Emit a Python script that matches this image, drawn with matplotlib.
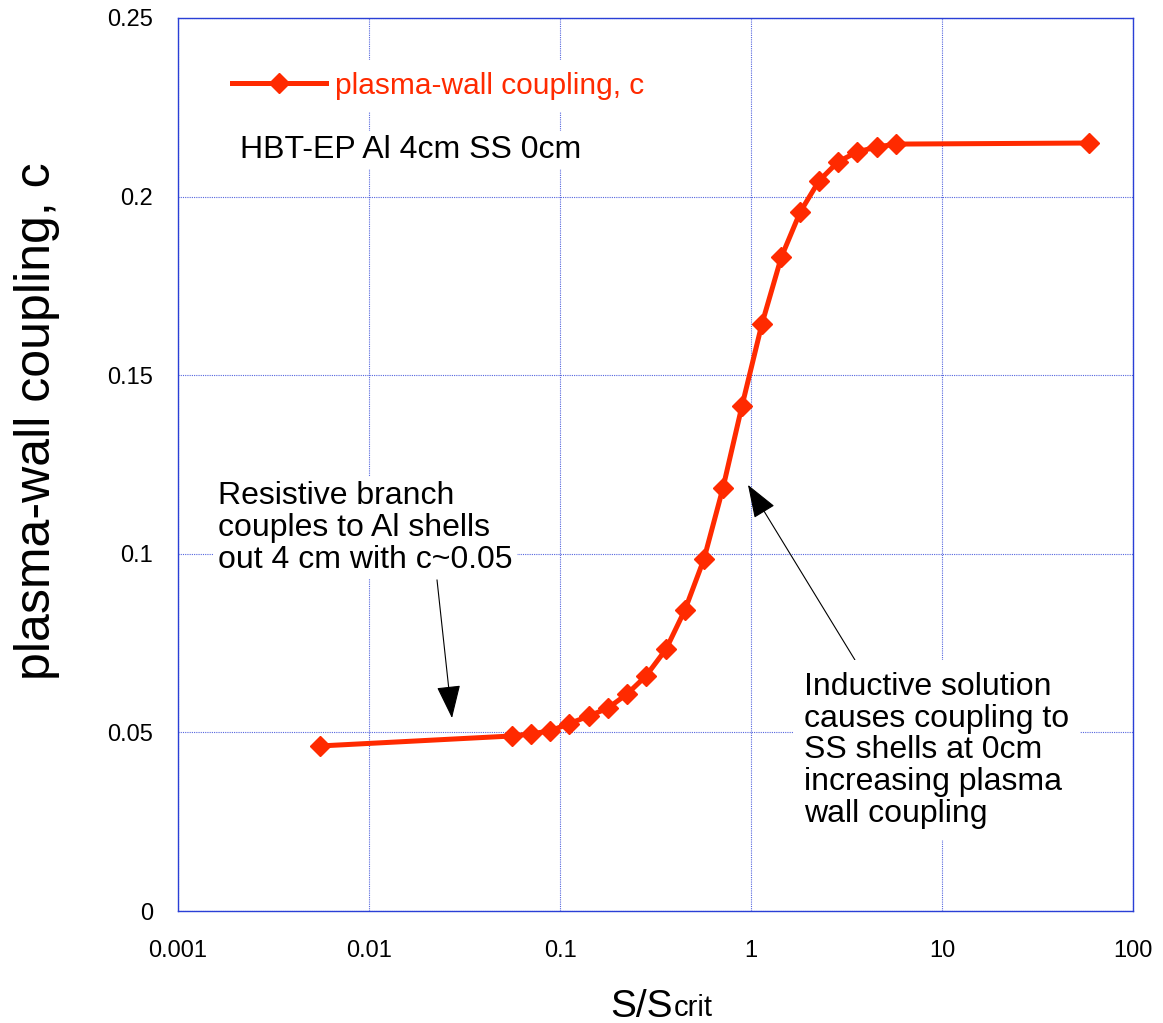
import numpy as np
import matplotlib.pyplot as plt

plt.rcParams['font.family'] = ['Liberation Sans', 'DejaVu Sans']

# data
s_ratio = [0.00553, 0.0561, 0.0705, 0.0887, 0.111, 0.142, 0.178, 0.224, 0.282,
           0.359, 0.451, 0.567, 0.713, 0.897, 1.14, 1.44, 1.81, 2.27, 2.85,
           3.59, 4.57, 5.74, 58.9]
coupling = [0.0462, 0.0490, 0.0496, 0.0504, 0.0524, 0.0546, 0.0568, 0.0607, 0.0658,
            0.0733, 0.0843, 0.0985, 0.1184, 0.1414, 0.1643, 0.1830, 0.1957, 0.2044,
            0.2097, 0.2125, 0.2139, 0.2147, 0.2150]

xticks = [0.001, 0.01, 0.1, 1, 10, 100]
xtick_labels = ['0.001', '0.01', '0.1', '1', '10', '100']
yticks = [0, 0.05, 0.1, 0.15, 0.2, 0.25]
ytick_labels = ['0', '0.05', '0.1', '0.15', '0.2', '0.25']

red = '#ff2a00'
blue = '#2a3fd6'

fig = plt.figure(figsize=(11.63, 10.23), dpi=100)
ax = fig.add_axes([178 / 1163, 1 - 911 / 1023, 955 / 1163, 893 / 1023])

ax.plot(s_ratio, coupling, color=red, lw=3.6, marker='D', ms=10.5,
        markerfacecolor=red, markeredgecolor=red, label='plasma-wall coupling, c')

ax.set_xscale('log')
ax.set_xlim(0.001, 100)
ax.set_ylim(0, 0.25)
ax.set_xticks(xticks)
ax.set_xticklabels(xtick_labels)
ax.set_yticks(yticks)
ax.set_yticklabels(ytick_labels)
ax.minorticks_off()
ax.tick_params(length=0, labelsize=17)
ax.tick_params(axis='y', pad=18)
ax.tick_params(axis='x', pad=21)
ax.grid(True, color=blue, ls=(0, (1, 1)), lw=0.8, alpha=0.8)
for sp in ax.spines.values():
    sp.set_color(blue)
    sp.set_linewidth(1)

ax.set_ylabel('plasma-wall coupling, c', fontsize=36)
ax.yaxis.set_label_coords((60 - 178) / 955, 0.548)

# x label: S/S with smaller "crit" next to it
xl = fig.text(610 / 1163, 1 - 1017 / 1023, 'S/S', fontsize=28,
              ha='left', va='baseline')
ax.annotate('crit', xy=(1, 0), xycoords=xl, xytext=(1, 2.5),
            textcoords='offset points', fontsize=21,
            ha='left', va='bottom', annotation_clip=False)

leg = ax.legend(loc='upper left', bbox_to_anchor=(0.044, 0.953), borderaxespad=0,
                frameon=True, fontsize=21.5, handlelength=3.15, handletextpad=0.3,
                numpoints=1, labelcolor=red, fancybox=False)
leg.get_frame().set_facecolor('white')
leg.get_frame().set_edgecolor('none')
leg.get_frame().set_alpha(1)

ax.text(0.065, 0.852, 'HBT-EP Al 4cm SS 0cm', transform=ax.transAxes,
        fontsize=23, va='center', ha='left',
        bbox=dict(facecolor='white', edgecolor='none', pad=3))

head = '-|>,head_length=1.05,head_width=0.38'
ax.annotate('', xy=(0.0272, 0.0540), xytext=(0.0227, 0.0927),
            arrowprops=dict(arrowstyle=head, mutation_scale=20, color='black',
                            lw=0.8, shrinkA=0, shrinkB=0))
ax.annotate('', xy=(0.964, 0.1193), xytext=(3.50, 0.0703),
            arrowprops=dict(arrowstyle=head, mutation_scale=20, color='black',
                            lw=0.8, shrinkA=0, shrinkB=0))

ax.text(0.00162, 0.1203, 'Resistive branch\ncouples to Al shells\nout 4 cm with c~0.05',
        fontsize=23, va='top', ha='left', linespacing=1.08,
        bbox=dict(facecolor='white', edgecolor='none', pad=3))
ax.text(1.895, 0.0670, 'Inductive solution\ncauses coupling to\nSS shells at 0cm\nincreasing plasma\nwall coupling',
        fontsize=23, va='top', ha='left', linespacing=1.08,
        bbox=dict(facecolor='white', edgecolor='none', pad=8))

fig.savefig('out.png', dpi=100)
